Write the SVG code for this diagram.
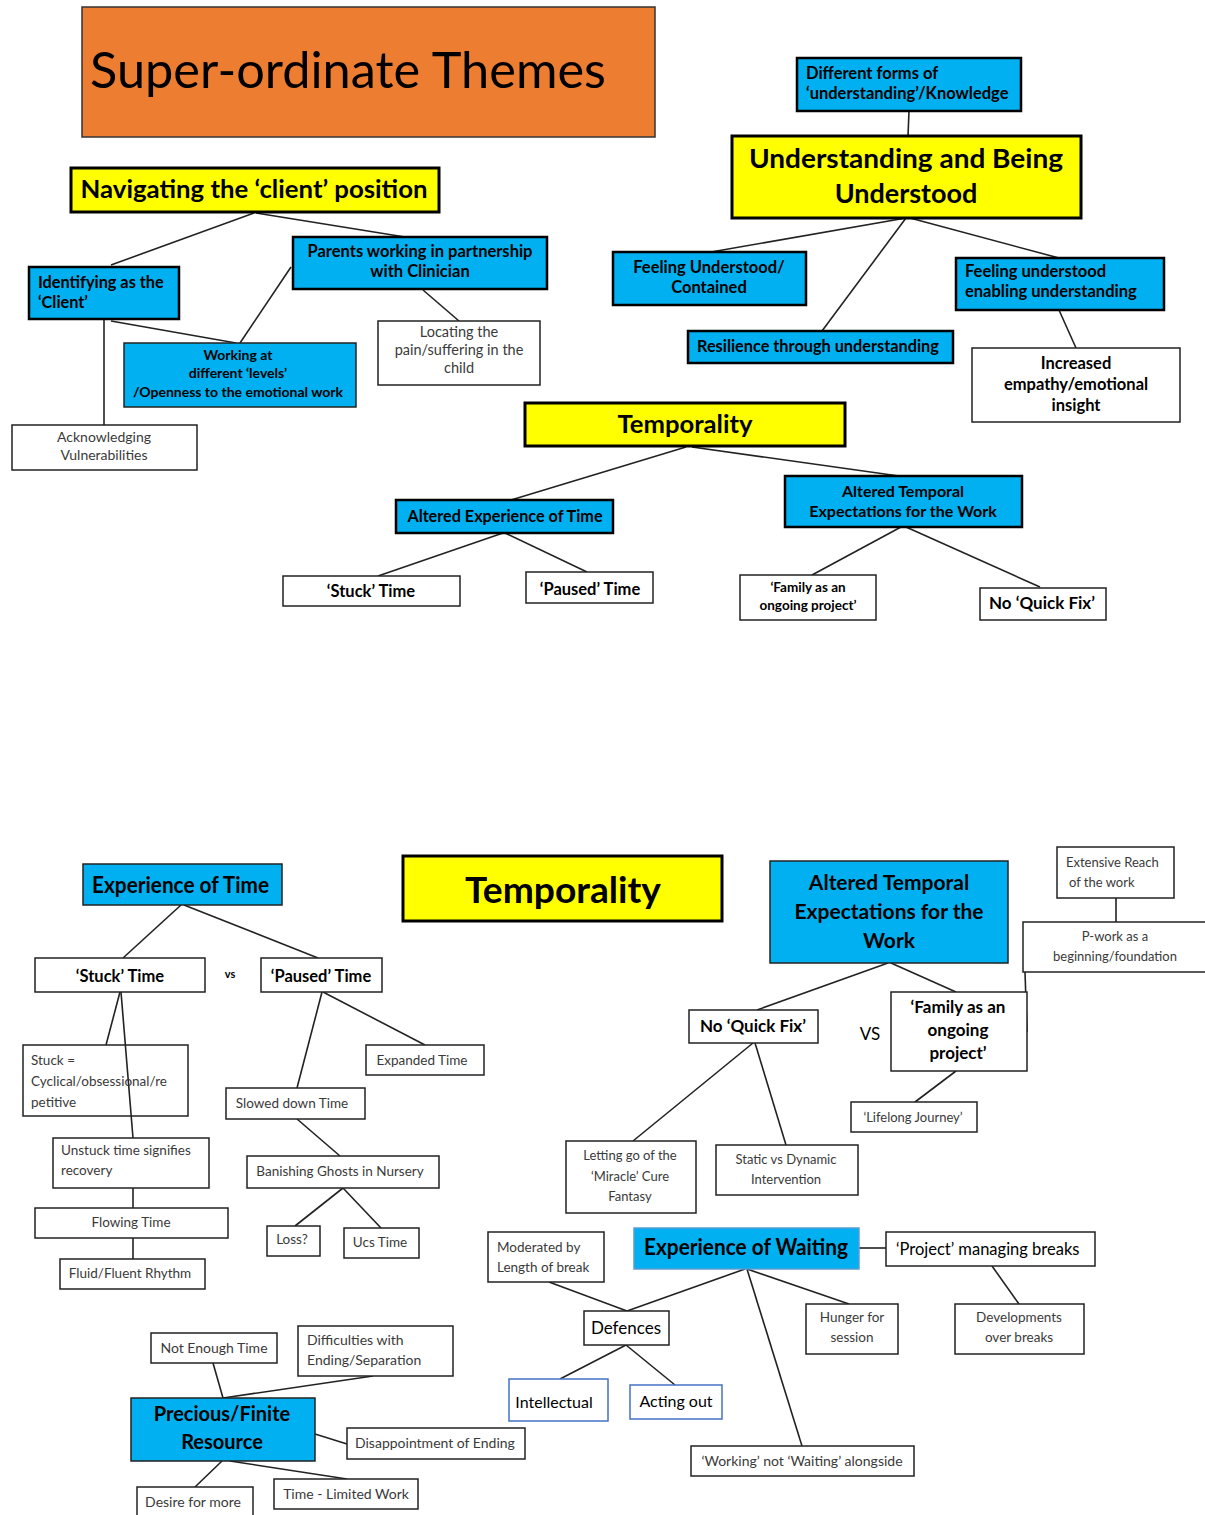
<svg xmlns="http://www.w3.org/2000/svg" width="1205" height="1515" viewBox="0 0 1205 1515">
<style>
text{font-family:Lato,"Open Sans","Liberation Sans",sans-serif;fill:#000}
.c{text-anchor:middle}
.b{font-weight:bold}
.g{fill:#3a3a3a}
.yel{fill:#FFFF00;stroke:#000;stroke-width:3}
.blu{fill:#00B0F0;stroke:#000;stroke-width:2.5}
.blt{fill:#00B0F0;stroke:#222;stroke-width:1.5}
.wht{fill:#fff;stroke:#222;stroke-width:1.5}
.wbl{fill:#fff;stroke:#4472C4;stroke-width:1.5}
#connectors line{stroke:#222;stroke-width:1.6;fill:none}
</style>
<rect width="1205" height="1515" fill="#fff"/>
<g id="connectors">
<line x1="254" y1="213" x2="111" y2="265"/>
<line x1="256" y1="213" x2="405" y2="237"/>
<line x1="104" y1="320" x2="104" y2="425"/>
<line x1="111" y1="321" x2="236" y2="343"/>
<line x1="291" y1="267" x2="240" y2="343"/>
<line x1="423" y1="290" x2="459" y2="321"/>
<line x1="909" y1="111" x2="908" y2="136"/>
<line x1="906" y1="218" x2="711" y2="252"/>
<line x1="906" y1="218" x2="822" y2="331"/>
<line x1="910" y1="218" x2="1059" y2="258"/>
<line x1="1059" y1="310" x2="1076" y2="348"/>
<line x1="686" y1="447" x2="511" y2="500"/>
<line x1="692" y1="447" x2="899" y2="476"/>
<line x1="503" y1="533" x2="378" y2="576"/>
<line x1="505" y1="533" x2="587" y2="572"/>
<line x1="901" y1="527" x2="812" y2="575"/>
<line x1="906" y1="527" x2="1040" y2="587"/>
<line x1="181" y1="905" x2="123" y2="958"/>
<line x1="184" y1="905" x2="318" y2="958"/>
<line x1="120" y1="992" x2="106" y2="1045"/>
<line x1="121" y1="992" x2="133" y2="1138"/>
<line x1="133" y1="1188" x2="133" y2="1208"/>
<line x1="133" y1="1238" x2="133" y2="1259"/>
<line x1="322" y1="992" x2="297" y2="1088"/>
<line x1="323" y1="992" x2="425" y2="1045"/>
<line x1="297" y1="1119" x2="340" y2="1156"/>
<line x1="343" y1="1188" x2="295" y2="1226"/>
<line x1="343" y1="1188" x2="381" y2="1228"/>
<line x1="888" y1="963" x2="757" y2="1010"/>
<line x1="891" y1="963" x2="956" y2="992"/>
<line x1="1116" y1="898" x2="1116" y2="922"/>
<line x1="1025" y1="972" x2="1027" y2="1032"/>
<line x1="753" y1="1043" x2="633" y2="1141"/>
<line x1="755" y1="1043" x2="786" y2="1145"/>
<line x1="956" y1="1071" x2="915" y2="1102"/>
<line x1="859" y1="1248" x2="886" y2="1248"/>
<line x1="745" y1="1269" x2="627" y2="1311"/>
<line x1="747" y1="1269" x2="849" y2="1304"/>
<line x1="747" y1="1269" x2="802" y2="1446"/>
<line x1="549" y1="1282" x2="627" y2="1311"/>
<line x1="626" y1="1345" x2="560" y2="1379"/>
<line x1="626" y1="1345" x2="675" y2="1385"/>
<line x1="992" y1="1266" x2="1019" y2="1304"/>
<line x1="213" y1="1363" x2="223" y2="1398"/>
<line x1="373" y1="1376" x2="223" y2="1398"/>
<line x1="315" y1="1434" x2="347" y2="1444"/>
<line x1="222" y1="1461" x2="195" y2="1487"/>
<line x1="230" y1="1461" x2="347" y2="1479"/>
</g>

<g id="title">
<rect x="82" y="7" width="573" height="130" fill="#ED7D31" stroke="#333" stroke-width="1.5"/>
<text x="90" y="88" font-size="50" textLength="516" lengthAdjust="spacingAndGlyphs">Super-ordinate Themes</text>
</g>

<g id="navigating">
<rect x="71" y="168" width="368" height="44" class="yel"/>
<text x="254" y="198" class="c b" font-size="24" textLength="347" lengthAdjust="spacingAndGlyphs">Navigating the ‘client’ position</text>
</g>
<g id="identifying">
<rect x="29" y="267" width="150" height="52" class="blu"/>
<text x="38" y="288" class="b" font-size="16.3">Identifying as the</text>
<text x="38" y="308" class="b" font-size="16.3">‘Client’</text>
</g>
<g id="parents">
<rect x="293" y="237" width="254" height="52" class="blu"/>
<text x="420" y="257" class="c b" font-size="16.5">Parents working in partnership</text>
<text x="420" y="277" class="c b" font-size="16.5">with Clinician</text>
</g>
<g id="working-levels">
<rect x="124" y="343" width="232" height="64" class="blt"/>
<text x="238" y="360" class="c b" font-size="14">Working at</text>
<text x="238" y="378" class="c b" font-size="14">different ‘levels’</text>
<text x="238" y="397" class="c b" font-size="14">/Openness to the emotional work</text>
</g>
<g id="locating">
<rect x="378" y="321" width="162" height="64" class="wht"/>
<text x="459" y="337" class="c g" font-size="14.5">Locating the</text>
<text x="459" y="355" class="c g" font-size="14.5">pain/suffering in the</text>
<text x="459" y="373" class="c g" font-size="14.5">child</text>
</g>
<g id="acknowledging">
<rect x="12" y="425" width="185" height="45" class="wht"/>
<text x="104" y="442" class="c g" font-size="14">Acknowledging</text>
<text x="104" y="460" class="c g" font-size="14">Vulnerabilities</text>
</g>

<g id="different-forms">
<rect x="797" y="58" width="224" height="53" class="blu" stroke-width="2"/>
<text x="806" y="79" class="b" font-size="16.5">Different forms of</text>
<text x="806" y="99" class="b" font-size="16.5">‘understanding’/Knowledge</text>
</g>
<g id="understanding">
<rect x="732" y="136" width="349" height="82" class="yel"/>
<text x="906" y="168" class="c b" font-size="27" textLength="314" lengthAdjust="spacingAndGlyphs">Understanding and Being</text>
<text x="906" y="203" class="c b" font-size="27">Understood</text>
</g>
<g id="feeling-contained">
<rect x="613" y="252" width="193" height="53" class="blu" stroke-width="2"/>
<text x="709" y="273" class="c b" font-size="16.5">Feeling Understood/</text>
<text x="709" y="293" class="c b" font-size="16.5">Contained</text>
</g>
<g id="feeling-enabling">
<rect x="956" y="258" width="208" height="52" class="blu" stroke-width="2"/>
<text x="965" y="277" class="b" font-size="16.5">Feeling understood</text>
<text x="965" y="297" class="b" font-size="16.5">enabling understanding</text>
</g>
<g id="resilience">
<rect x="688" y="331" width="265" height="32" class="blu" stroke-width="2"/>
<text x="697" y="352" class="b" font-size="16.3">Resilience through understanding</text>
</g>
<g id="increased">
<rect x="972" y="348" width="208" height="74" class="wht"/>
<text x="1076" y="369" class="c b" font-size="16.5" fill="#111">Increased</text>
<text x="1076" y="390" class="c b" font-size="16.5" fill="#111">empathy/emotional</text>
<text x="1076" y="411" class="c b" font-size="16.5" fill="#111">insight</text>
</g>

<g id="temporality-top">
<rect x="525" y="403" width="320" height="43" class="yel"/>
<text x="685" y="433" class="c b" font-size="25" textLength="135" lengthAdjust="spacingAndGlyphs">Temporality</text>
</g>
<g id="altered-experience">
<rect x="396" y="500" width="217" height="33" class="blu" stroke-width="1.8"/>
<text x="505" y="522" class="c b" font-size="16.2">Altered Experience of Time</text>
</g>
<g id="altered-temporal-top">
<rect x="785" y="476" width="237" height="51" class="blu" stroke-width="1.8"/>
<text x="903" y="497" class="c b" font-size="16">Altered Temporal</text>
<text x="903" y="517" class="c b" font-size="16">Expectations for the Work</text>
</g>
<g id="stuck-top">
<rect x="283" y="576" width="177" height="30" class="wht"/>
<text x="371" y="597" class="c b" font-size="16.5">‘Stuck’ Time</text>
</g>
<g id="paused-top">
<rect x="526" y="572" width="127" height="31" class="wht"/>
<text x="590" y="595" class="c b" font-size="16.5">‘Paused’ Time</text>
</g>
<g id="family-top">
<rect x="740" y="575" width="136" height="45" class="wht"/>
<text x="808" y="592" class="c b" font-size="13.5">‘Family as an</text>
<text x="808" y="610" class="c b" font-size="13.5">ongoing project’</text>
</g>
<g id="quickfix-top">
<rect x="980" y="588" width="126" height="32" class="wht"/>
<text x="1042" y="609" class="c b" font-size="17">No ‘Quick Fix’</text>
</g>

<g id="experience-of-time">
<rect x="83" y="864" width="199" height="41" class="blt"/>
<text x="92" y="893" class="b" font-size="22" textLength="177" lengthAdjust="spacingAndGlyphs">Experience of Time</text>
</g>
<g id="temporality-bottom">
<rect x="403" y="856" width="319" height="65" class="yel"/>
<text x="563" y="903" class="c b" font-size="37" textLength="196" lengthAdjust="spacingAndGlyphs">Temporality</text>
</g>
<g id="altered-temporal-bottom">
<rect x="770" y="861" width="238" height="102" class="blt"/>
<text x="889" y="890" class="c b" font-size="21">Altered Temporal</text>
<text x="889" y="919" class="c b" font-size="21">Expectations for the</text>
<text x="889" y="948" class="c b" font-size="21">Work</text>
</g>
<g id="extensive-reach">
<rect x="1057" y="847" width="117" height="51" class="wht"/>
<text x="1066" y="867" class="g" font-size="13">Extensive Reach</text>
<text x="1069" y="887" class="g" font-size="13">of the work</text>
</g>
<g id="p-work">
<rect x="1023" y="922" width="190" height="50" class="wht"/>
<text x="1115" y="941" class="c g" font-size="13">P-work as a</text>
<text x="1115" y="961" class="c g" font-size="13">beginning/foundation</text>
</g>
<g id="stuck-bottom">
<rect x="35" y="958" width="170" height="34" class="wht"/>
<text x="120" y="982" class="c b" font-size="16.5">‘Stuck’ Time</text>
</g>
<text x="230" y="978" class="c b" font-size="11">vs</text>
<g id="paused-bottom">
<rect x="261" y="958" width="121" height="34" class="wht"/>
<text x="321" y="982" class="c b" font-size="16.5">‘Paused’ Time</text>
</g>
<g id="stuck-equals">
<rect x="23" y="1045" width="165" height="71" class="wht" style="fill:none"/>
<text x="31" y="1065" class="g" font-size="13.5">Stuck =</text>
<text x="31" y="1086" class="g" font-size="13.5">Cyclical/obsessional/re</text>
<text x="31" y="1107" class="g" font-size="13.5">petitive</text>
</g>
<g id="unstuck">
<rect x="53" y="1138" width="156" height="50" class="wht"/>
<text x="61" y="1155" class="g" font-size="13.5">Unstuck time signifies</text>
<text x="61" y="1175" class="g" font-size="13.5">recovery</text>
</g>
<g id="flowing">
<rect x="35" y="1208" width="193" height="30" class="wht"/>
<text x="131" y="1227" class="c g" font-size="13.5">Flowing Time</text>
</g>
<g id="fluid">
<rect x="60" y="1259" width="145" height="30" class="wht"/>
<text x="130" y="1278" class="c g" font-size="13.5">Fluid/Fluent Rhythm</text>
</g>
<g id="expanded">
<rect x="366" y="1045" width="118" height="30" class="wht"/>
<text x="422" y="1065" class="c g" font-size="13.5">Expanded Time</text>
</g>
<g id="slowed">
<rect x="226" y="1088" width="139" height="31" class="wht"/>
<text x="292" y="1108" class="c g" font-size="13.5">Slowed down Time</text>
</g>
<g id="banishing">
<rect x="247" y="1156" width="192" height="32" class="wht"/>
<text x="340" y="1176" class="c g" font-size="13.5">Banishing Ghosts in Nursery</text>
</g>
<g id="loss">
<rect x="267" y="1226" width="53" height="30" class="wht"/>
<text x="292" y="1244" class="c g" font-size="13.5">Loss?</text>
</g>
<g id="ucs">
<rect x="344" y="1228" width="75" height="30" class="wht"/>
<text x="380" y="1247" class="c g" font-size="13.5">Ucs Time</text>
</g>

<g id="quickfix-bottom">
<rect x="689" y="1010" width="129" height="33" class="wht"/>
<text x="753" y="1032" class="c b" font-size="17">No ‘Quick Fix’</text>
</g>
<text x="870" y="1040" class="c" font-size="17" fill="#222">VS</text>
<g id="family-bottom">
<rect x="891" y="992" width="136" height="79" class="wht"/>
<text x="958" y="1013" class="c b" font-size="17">‘Family as an</text>
<text x="958" y="1036" class="c b" font-size="17">ongoing</text>
<text x="958" y="1059" class="c b" font-size="17">project’</text>
</g>
<g id="lifelong">
<rect x="851" y="1102" width="126" height="30" class="wht"/>
<text x="913" y="1122" class="c g" font-size="13">‘Lifelong Journey’</text>
</g>
<g id="letting-go">
<rect x="566" y="1141" width="130" height="72" class="wht"/>
<text x="630" y="1160" class="c g" font-size="13">Letting go of the</text>
<text x="630" y="1181" class="c g" font-size="13">‘Miracle’ Cure</text>
<text x="630" y="1201" class="c g" font-size="13">Fantasy</text>
</g>
<g id="static">
<rect x="716" y="1145" width="142" height="50" class="wht"/>
<text x="786" y="1164" class="c g" font-size="13">Static vs Dynamic</text>
<text x="786" y="1184" class="c g" font-size="13">Intervention</text>
</g>

<g id="moderated">
<rect x="488" y="1232" width="116" height="50" class="wht"/>
<text x="497" y="1252" class="g" font-size="13.5">Moderated by</text>
<text x="497" y="1272" class="g" font-size="13.5">Length of break</text>
</g>
<g id="experience-of-waiting">
<rect x="634" y="1228" width="225" height="41" fill="#00B0F0" stroke="#5B9BD5" stroke-width="1.5"/>
<text x="746" y="1255" class="c b" font-size="22" textLength="204" lengthAdjust="spacingAndGlyphs">Experience of Waiting</text>
</g>
<g id="project-breaks">
<rect x="886" y="1232" width="209" height="34" class="wht"/>
<text x="896" y="1255" font-size="16.5" fill="#222">‘Project’ managing breaks</text>
</g>
<g id="defences">
<rect x="584" y="1311" width="85" height="34" class="wht"/>
<text x="626" y="1334" class="c" font-size="17" fill="#222">Defences</text>
</g>
<g id="hunger">
<rect x="806" y="1304" width="92" height="50" class="wht"/>
<text x="852" y="1322" class="c g" font-size="13.5">Hunger for</text>
<text x="852" y="1342" class="c g" font-size="13.5">session</text>
</g>
<g id="developments">
<rect x="955" y="1304" width="129" height="50" class="wht"/>
<text x="1019" y="1322" class="c g" font-size="13.5">Developments</text>
<text x="1019" y="1342" class="c g" font-size="13.5">over breaks</text>
</g>
<g id="intellectual">
<rect x="509" y="1379" width="99" height="42" class="wbl"/>
<text x="554" y="1408" class="c" font-size="16" fill="#222">Intellectual</text>
</g>
<g id="acting-out">
<rect x="630" y="1385" width="92" height="34" class="wbl"/>
<text x="676" y="1407" class="c" font-size="16" fill="#222">Acting out</text>
</g>
<g id="working-waiting">
<rect x="691" y="1446" width="223" height="30" class="wht"/>
<text x="802" y="1466" class="c g" font-size="14">‘Working’ not ‘Waiting’ alongside</text>
</g>

<g id="not-enough">
<rect x="151" y="1333" width="126" height="30" class="wht"/>
<text x="214" y="1353" class="c g" font-size="14">Not Enough Time</text>
</g>
<g id="difficulties">
<rect x="298" y="1326" width="155" height="50" class="wht"/>
<text x="307" y="1345" class="g" font-size="14">Difficulties with</text>
<text x="307" y="1365" class="g" font-size="14">Ending/Separation</text>
</g>
<g id="precious">
<rect x="131" y="1398" width="184" height="63" class="blt"/>
<text x="222" y="1421" class="c b" font-size="20">Precious/Finite</text>
<text x="222" y="1449" class="c b" font-size="20">Resource</text>
</g>
<g id="disappointment">
<rect x="347" y="1428" width="178" height="31" class="wht"/>
<text x="355" y="1448" class="g" font-size="14">Disappointment of Ending</text>
</g>
<g id="desire">
<rect x="137" y="1487" width="116" height="34" class="wht"/>
<text x="193" y="1507" class="c g" font-size="14">Desire for more</text>
</g>
<g id="time-limited">
<rect x="274" y="1479" width="144" height="30" class="wht"/>
<text x="346" y="1499" class="c g" font-size="14">Time - Limited Work</text>
</g>
</svg>
